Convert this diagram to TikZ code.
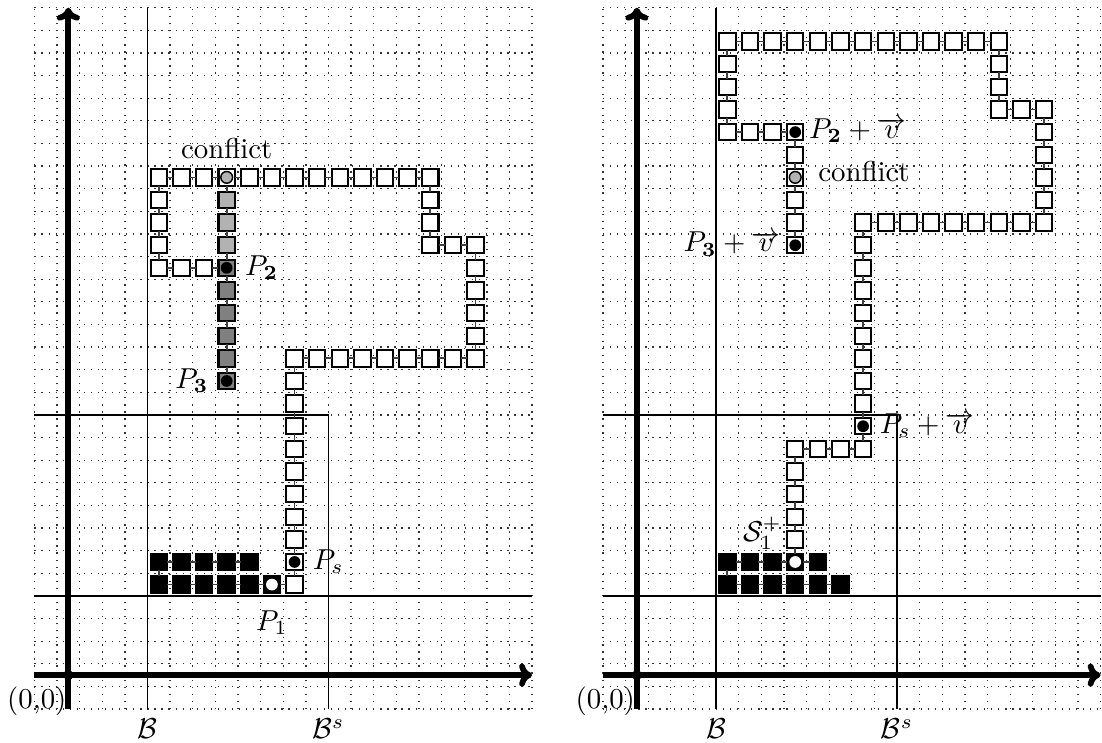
\documentclass[tikz,border=0pt]{standalone}
\usetikzlibrary{arrows.meta}
\newcommand{\drawframe}[1]{%
  \foreach \i in {-1.5,-0.5,...,20.6} \draw[gridline] (\i,-1.5) -- (\i,29.5);
  \foreach \j in {-1.5,-0.5,...,29.6} \draw[gridline] (-1.5,\j) -- (20.5,\j);
  \draw[bline] (3.5,-1.5) -- (3.5,29.5);
  \draw[bline] (-1.5,3.5) -- (20.5,3.5);
  \draw[bline] (-1.5,11.5) -- (11.5,11.5) -- (11.5,-1.5);
  \draw[axis] (-1.5,0) -- (20.5,0);
  \draw[axis] (0,-1.5) -- (0,29.5);
  \fill (0,0) circle (0.22);
  \node[below] (#1-B) at (3.5,-1.5) {$\mathcal{B}$};
  \node[below] (#1-Bs) at (11.5,-1.5) {$\mathcal{B}^s$};
  \node[anchor=north east, inner sep=0pt] (#1-O) at (-0.06,-0.5) {(0,0)};
}
\newcommand{\hl}[4]{\foreach \x [evaluate=\x as \xn using int(\x+1)] in {#2,...,#3} \draw[link] (#1-\x-#4) -- (#1-\xn-#4);}
\newcommand{\vl}[4]{\foreach \y [evaluate=\y as \yn using int(\y+1)] in {#2,...,#3} \draw[link] (#1-#4-\y) -- (#1-#4-\yn);}
\begin{document}
\begin{tikzpicture}[x=0.276cm,y=0.276cm,
  gridline/.style={dotted, black!80, line width=0.45pt},
  bline/.style={black, line width=0.5pt},
  axis/.style={line width=2pt, -{Computer Modern Rightarrow[length=4.5pt,width=8pt]}},
  cell/.style={draw=black, line width=0.7pt, minimum size=0.2cm, inner sep=0pt, outer sep=0pt, fill=white},
  blk/.style={cell, fill=black},
  lgray/.style={cell, fill=black!30},
  dgray/.style={cell, fill=black!50},
  link/.style={line width=0.6pt, black!75},
  dotblack/.style={fill=black},
  dotwhite/.style={fill=white},
  dotgray/.style={fill=black!30, draw=black, line width=0.5pt}]
\useasboundingbox (-3.02,-3.0) rectangle (45.69,29.84);

% ---------------- left picture ----------------
\begin{scope}
\drawframe{L}
\foreach \x in {4,...,8} {\node[blk] (L-\x-4) at (\x,4) {}; \node[blk] (L-\x-5) at (\x,5) {};}
\node[blk] (L-9-4) at (9,4) {};
\foreach \y in {4,...,14} \node[cell] (L-10-\y) at (10,\y) {};
\foreach \x in {11,...,18} \node[cell] (L-\x-14) at (\x,14) {};
\foreach \y in {15,...,19} \node[cell] (L-18-\y) at (18,\y) {};
\foreach \x in {16,17} \node[cell] (L-\x-19) at (\x,19) {};
\foreach \y in {20,21,22} \node[cell] (L-16-\y) at (16,\y) {};
\foreach \x in {4,...,15} \node[cell] (L-\x-22) at (\x,22) {};
\foreach \y in {18,...,21} \node[cell] (L-4-\y) at (4,\y) {};
\foreach \x in {5,6} \node[cell] (L-\x-18) at (\x,18) {};
\foreach \y in {13,...,18} \node[dgray] (L-7-\y) at (7,\y) {};
\foreach \y in {19,20,21} \node[lgray] (L-7-\y) at (7,\y) {};
\hl{L}{4}{7}{5}
\vl{L}{4}{4}{4}
\hl{L}{4}{9}{4}
\vl{L}{4}{13}{10}
\hl{L}{10}{17}{14}
\vl{L}{14}{18}{18}
\hl{L}{16}{17}{19}
\vl{L}{19}{21}{16}
\hl{L}{4}{15}{22}
\vl{L}{18}{21}{4}
\hl{L}{4}{6}{18}
\vl{L}{13}{21}{7}
\path[dotwhite] (L-9-4) circle (0.26);
\path[dotblack] (L-10-5) circle (0.26);
\path[dotblack] (L-7-18) circle (0.26);
\path[dotblack] (L-7-13) circle (0.26);
\path[dotgray] (L-7-22) circle (0.26);
\node[above] (L-conf) at (L-7-22.north) {conflict};
\node[right] (L-P2) at (L-7-18.east) {$P_{\mathbf{2}}$};
\node[left] (L-P3) at (L-7-13.west) {$P_{\mathbf{3}}$};
\node[right] (L-Ps) at (L-10-5.east) {$P_s$};
\node[anchor=north, inner sep=0pt] (L-P1) at (9,2.88) {$P_1$};
\end{scope}

% ---------------- right picture ----------------
\begin{scope}[shift={(25.13,0)}]
\drawframe{R}
\foreach \x in {4,...,9} \node[blk] (R-\x-4) at (\x,4) {};
\foreach \x in {4,...,8} \node[blk] (R-\x-5) at (\x,5) {};
\foreach \y in {6,...,10} \node[cell] (R-7-\y) at (7,\y) {};
\foreach \x in {8,9} \node[cell] (R-\x-10) at (\x,10) {};
\foreach \y in {10,...,20} \node[cell] (R-10-\y) at (10,\y) {};
\foreach \x in {11,...,18} \node[cell] (R-\x-20) at (\x,20) {};
\foreach \y in {21,...,25} \node[cell] (R-18-\y) at (18,\y) {};
\foreach \x in {16,17} \node[cell] (R-\x-25) at (\x,25) {};
\foreach \y in {26,27,28} \node[cell] (R-16-\y) at (16,\y) {};
\foreach \x in {4,...,15} \node[cell] (R-\x-28) at (\x,28) {};
\foreach \y in {24,...,27} \node[cell] (R-4-\y) at (4,\y) {};
\foreach \x in {5,6,7} \node[cell] (R-\x-24) at (\x,24) {};
\foreach \y in {19,...,23} \node[cell] (R-7-\y) at (7,\y) {};
\hl{R}{4}{7}{5}
\vl{R}{4}{4}{4}
\hl{R}{4}{8}{4}
\vl{R}{5}{9}{7}
\hl{R}{7}{9}{10}
\vl{R}{10}{19}{10}
\hl{R}{10}{17}{20}
\vl{R}{20}{24}{18}
\hl{R}{16}{17}{25}
\vl{R}{25}{27}{16}
\hl{R}{4}{15}{28}
\vl{R}{24}{27}{4}
\hl{R}{4}{6}{24}
\vl{R}{19}{23}{7}
\path[dotwhite] (R-7-5) circle (0.26);
\path[dotblack] (R-10-11) circle (0.26);
\path[dotblack] (R-7-24) circle (0.26);
\path[dotblack] (R-7-19) circle (0.26);
\path[dotgray] (R-7-22) circle (0.26);
\node[anchor=base west, inner sep=0pt] (R-P2) at (7.59,23.72) {$P_{\mathbf{2}}+\overrightarrow{v}$};
\node[anchor=base west, inner sep=0pt] (R-conf) at (8.0,21.8) {conflict};
\node[anchor=base east, inner sep=0pt] (R-P3) at (6.38,18.71) {$P_{\mathbf{3}}+\overrightarrow{v}$};
\node[anchor=base west, inner sep=0pt] (R-Ps) at (10.72,10.68) {$P_s+\overrightarrow{v}$};
\node[anchor=base east, inner sep=0pt] (R-S) at (6.43,5.89) {$\mathcal{S}_1^+$};
\end{scope}
\end{tikzpicture}
\end{document}
